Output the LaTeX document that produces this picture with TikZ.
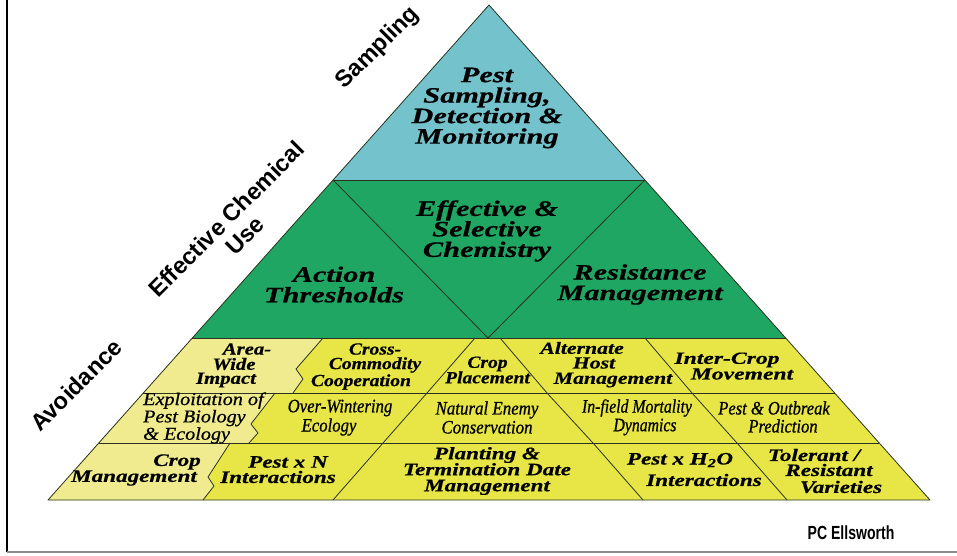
\documentclass[tikz,border=0pt]{standalone}
\usepackage{fontspec}
\setmainfont{Liberation Serif}
\newfontfamily\labelfont{Liberation Sans}
\definecolor{skyfill}{HTML}{74C2CB}
\definecolor{chemfill}{HTML}{20A663}
\definecolor{avoidfill}{HTML}{E8E646}
\definecolor{palefill}{HTML}{EFEB8E}
\definecolor{edge}{HTML}{2B3320}
\definecolor{framegray}{HTML}{8C8C8C}
% serif cell font: horizontal stretch, size, leading
\newcommand\cellfont[3]{\fontspec[FakeStretch=#1, BoldItalicFeatures={FakeBold=0.5}, ItalicFeatures={FakeBold=0.7}]{Liberation Serif}\fontsize{#2}{#3}\selectfont}
\tikzset{
  region/.style={draw=edge, line width=0.8pt, line join=round},
  divider/.style={draw=edge, line width=0.8pt, line join=round},
  celltext/.style={align=center, inner sep=0pt, text=black},
  bigtext/.style={celltext, font=\cellfont{#1}{22}{20.5}\bfseries\itshape},
  bigtext/.default=1.38,
  rowone/.style={celltext, font=\cellfont{#1}{17}{15.5}\bfseries\itshape},
  rowone/.default=1.22,
  rowtwo/.style={celltext, font=\cellfont{#1}{19}{19}\itshape},
  rowtwo/.default=0.88,
  rowthree/.style={celltext, font=\cellfont{#1}{17.5}{16}\bfseries\itshape},
  rowthree/.default=1.32,
  sidelabel/.style={inner sep=0pt, rotate=45, font=\labelfont\bfseries\fontsize{23.5}{26}\selectfont},
}
\begin{document}
\begin{tikzpicture}[x=1pt,y=-1pt]
\useasboundingbox (0,0) rectangle (957,556);

% frame
\draw[line width=2.5pt, black] (7,0) -- (7,552);
\draw[line width=1.6pt, framegray] (7,552) -- (957,552);

% key points of the pyramid
\coordinate (apex) at (489,5);
\coordinate (tl) at (333.1,180);  \coordinate (tr) at (644.9,180);
\coordinate (ml) at (192.3,338);  \coordinate (mr) at (785.7,338);
\coordinate (r1l) at (143.3,393); \coordinate (r1r) at (834.7,393);
\coordinate (r2l) at (98.8,443);  \coordinate (r2r) at (879.2,443);
\coordinate (bl) at (48,500);     \coordinate (br) at (930,500);
\coordinate (vee) at (488,338);

% tiers
\fill[skyfill] (apex) -- (tl) -- (tr) -- cycle;
\fill[chemfill] (tl) -- (tr) -- (mr) -- (ml) -- cycle;
\fill[avoidfill] (ml) -- (mr) -- (br) -- (bl) -- cycle;

% paler cells on the left of the base tier
\fill[palefill] (ml) -- (323,338) -- (296,369) -- (303,379) -- (293,393) -- (r1l) -- cycle;
\fill[palefill] (r1l) -- (275,393) -- (251,424) -- (258,433) -- (249,443) -- (r2l) -- cycle;
\fill[palefill] (r2l) -- (230,443) -- (208,477) -- (214,486) -- (203,500) -- (bl) -- cycle;

% cell borders
\draw[divider] (tl) -- (tr);
\draw[divider] (ml) -- (mr);
\draw[divider] (r1l) -- (r1r);
\draw[divider] (r2l) -- (r2r);
\draw[divider] (tl) -- (vee) -- (tr);
\draw[divider] (323,338) -- (296,369) -- (303,379) -- (293,393);
\draw[divider] (275,393) -- (251,424) -- (258,433) -- (249,443);
\draw[divider] (230,443) -- (208,477) -- (214,486) -- (203,500);
\draw[divider] (475,338) -- (427,393) -- (383,443) -- (333,500);
\draw[divider] (500,338) -- (547,393) -- (593,443) -- (643,500);
\draw[divider] (645,338) -- (692,393) -- (737,443) -- (787,500);
\draw[region] (apex) -- (br) -- (bl) -- cycle;

% top tier
\node[bigtext] (sampling) at (487,108) {Pest\\Sampling,\\Detection \&\\Monitoring};

% middle tier
\node[bigtext] (thresholds) at (334,284.5) {Action\\Thresholds};
\node[bigtext] (chemistry) at (487,231) {Effective \&\\Selective\\Chemistry};
\node[bigtext] (resistance) at (640,284.5) {Resistance\\Management};

% base tier, first row
\node[rowone=1.22] (area1) at (247,349) {Area-};
\node[rowone=1.22] (area2) at (234,364) {Wide};
\node[rowone=1.22] (area3) at (226,380) {Impact};
\node[rowone=1.15] (cross1) at (375,349) {Cross-};
\node[rowone=1.15] (cross2) at (375,365) {Commodity};
\node[rowone=1.15] (cross3) at (361,382) {Cooperation};
\node[rowone=1.15] (place) at (487.5,370) {Crop\\Placement};
\node[rowone=1.28] (alt1) at (582,348) {Alternate};
\node[rowone=1.28] (alt2) at (594,363) {Host};
\node[rowone=1.28] (alt3) at (613,380) {Management};
\node[rowone=1.39] (inter1) at (727,360) {Inter-Crop};
\node[rowone=1.39] (inter2) at (742,374) {Movement};

% base tier, second row
\node[celltext, align=left, anchor=west, font=\cellfont{1.12}{18}{15}\itshape] (exploit) at (143,418) {Exploitation of\\Pest Biology\\\& Ecology};
\node[rowtwo=0.88] (winter1) at (340,408) {Over-Wintering};
\node[rowtwo=0.88] (winter2) at (329,427) {Ecology};
\node[rowtwo=0.89] (enemy) at (487,417.5) {Natural Enemy\\Conservation};
\node[rowtwo=0.83] (mort1) at (637,408) {In-field Mortality};
\node[rowtwo=0.83] (mort2) at (645,427) {Dynamics};
\node[rowtwo=0.87] (outb1) at (774,408) {Pest \& Outbreak};
\node[rowtwo=0.87] (outb2) at (783,426) {Prediction};

% base tier, third row
\node[rowthree] (cropm1) at (177,462) {Crop};
\node[rowthree] (cropm2) at (134,478) {Management};
\node[rowthree] (pestn1) at (288,462) {Pest x N};
\node[rowthree] (pestn2) at (278,477) {Interactions};
\node[rowthree] (plant) at (487,471) {Planting \&\\Termination Date\\Management};
\node[rowthree] (water1) at (680,460) {Pest x H\textsubscript{2}O};
\node[rowthree] (water2) at (704,480) {Interactions};
\node[rowthree] (toler1) at (814,455) {Tolerant /};
\node[rowthree] (toler2) at (829,470) {Resistant};
\node[rowthree] (toler3) at (841,487) {Varieties};

% side labels
\node[sidelabel] (lsampling) at (378,48) {Sampling};
\node[sidelabel] (lchem1) at (226,219) {Effective Chemical};
\node[sidelabel] (lchem2) at (245,236) {Use};
\node[sidelabel] (lavoid) at (76,385) {Avoidance};

% credit
\node[inner sep=0pt, font=\labelfont\bfseries\fontsize{19}{22}\selectfont] (credit) at (851,533) {\scalebox{0.74}[1]{PC Ellsworth}};
\end{tikzpicture}
\end{document}
